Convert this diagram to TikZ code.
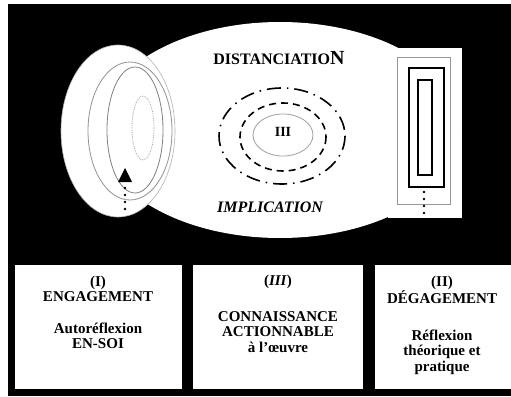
\documentclass[tikz,border=0pt]{standalone}
\usepackage{fontspec}
\setmainfont{Liberation Serif}

\begin{document}
\begin{tikzpicture}[x=1pt,y=-1pt,
  every node/.style={font=\bfseries\fontsize{15}{15.5}\selectfont, inner sep=0pt, align=center},
  box/.style={fill=white, anchor=north west, minimum height=124pt},
  ring/.style={draw=gray!75, line width=0.8pt},
  dots/.style={line width=2.6pt, line cap=round, dash pattern=on 0pt off 7pt}]
  \useasboundingbox (0,0) rectangle (511,396);
  \fill[black] (8,4) rectangle (511,396);

  % the three zones
  \fill[white] (280,130) ellipse [x radius=182, y radius=108];
  \filldraw[fill=white, draw=gray!60, line width=0.6pt] (118,131) ellipse [x radius=57, y radius=86];
  \fill[white] (388,48) rectangle (462,218);

  % engagement
  \draw[ring, draw=gray!85] (130,131) ellipse [x radius=42, y radius=69];
  \draw[ring, draw=gray] (135,130) ellipse [x radius=28, y radius=63];
  \draw[ring, densely dotted, draw=gray!70] (143,128) ellipse [x radius=11, y radius=32];
  \fill (118,182) -- (132,182) -- (125,168) -- cycle;
  \coordinate (engtop) at (125,188);
  \coordinate (engbot) at (125,216);
  \draw[dots] (engtop) -- (engbot);

  % centre
  \draw[ring] (283,135) ellipse [x radius=30, y radius=21];
  \draw[line width=1.6pt, dash pattern=on 7pt off 5pt] (283,137) ellipse [x radius=43, y radius=34];
  \draw[line width=1.6pt, dash pattern=on 14pt off 6pt on 1.5pt off 6pt] (282,136) ellipse [x radius=63, y radius=48];
  \node (core) at (283,132) {\fontsize{14}{14}\selectfont III};
  \node (dist) at (279,58) {\fontsize{16}{16}\selectfont DISTANCIATIO\fontsize{20}{20}\selectfont N};
  \node (impl) at (270,207) {\fontsize{16}{16}\selectfont\itshape IMPLICATION};

  % degagement
  \draw[gray!80, line width=0.8pt] (397,57) rectangle (450,204);
  \draw[line width=1.2pt] (409,68) rectangle (444,187);
  \draw[line width=2.6pt] (418,80) rectangle (432,175);
  \coordinate (degtop) at (424,192);
  \coordinate (degbot) at (424,217);
  \draw[dots] (degtop) -- (degbot);

  % legend boxes
  \node[box, minimum width=167pt] (engbox) at (15,265) {};
  \node[box, minimum width=170pt] (conbox) at (193,265) {};
  \node[box, minimum width=136pt] (degbox) at (375,265) {};

  \node (engtitle) at (98,289) {(I)\\ENGAGEMENT};
  \node (engtext) at (98,336) {Autoréflexion\\EN-SOI};
  \node (contitle) at (278,282) {(\textit{III})};
  \node (context) at (278,332) {CONNAISSANCE\\ACTIONNABLE\\à l'œuvre};
  \node (degtitle) at (442,290) {(II)\\DÉGAGEMENT};
  \node (degtext) at (442,352) {\baselineskip=17pt Réflexion\\théorique et\\pratique};
\end{tikzpicture}
\end{document}
